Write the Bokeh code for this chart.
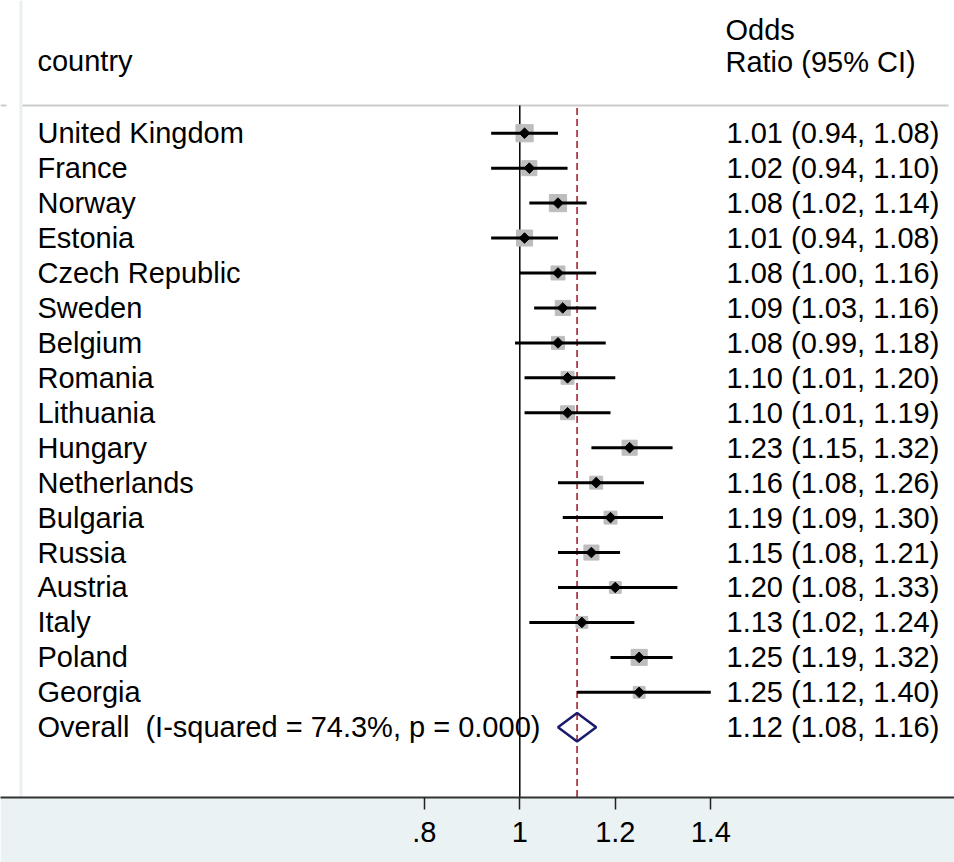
from bokeh.plotting import figure
from bokeh.models import ColumnDataSource, Range1d, FixedTicker
from bokeh.core.properties import value
from bokeh.embed import file_html
from bokeh.resources import INLINE
import math

# ---------------- data ----------------
countries = ["United Kingdom", "France", "Norway", "Estonia", "Czech Republic",
             "Sweden", "Belgium", "Romania", "Lithuania", "Hungary",
             "Netherlands", "Bulgaria", "Russia", "Austria", "Italy",
             "Poland", "Georgia"]
odds_ratio = [1.01, 1.02, 1.08, 1.01, 1.08, 1.09, 1.08, 1.10, 1.10, 1.23,
              1.16, 1.19, 1.15, 1.20, 1.13, 1.25, 1.25]
ci_low = [0.94, 0.94, 1.02, 0.94, 1.00, 1.03, 0.99, 1.01, 1.01, 1.15,
          1.08, 1.09, 1.08, 1.08, 1.02, 1.19, 1.12]
ci_high = [1.08, 1.10, 1.14, 1.08, 1.16, 1.16, 1.18, 1.20, 1.19, 1.32,
           1.26, 1.30, 1.21, 1.33, 1.24, 1.32, 1.40]
weights = [8.5, 6.5, 8.5, 7.4, 5.6, 6.5, 4.8, 4.8, 5.6, 6.5,
           4.8, 4.8, 6.5, 4.0, 4.0, 7.4, 4.0]
overall_or = 1.12
overall_low = 1.08
overall_high = 1.16
i_squared = 74.3
p_value = 0.000
tick_values = [0.8, 1.0, 1.2, 1.4]
tick_labels = [".8", "1", "1.2", "1.4"]

FONT = value("Liberation Sans")
FS = "29px"

n = len(countries)
rows = list(range(n))
overall_row = n

X0, X1 = -0.08754, 1.9104
Y_TOP, Y_BOT = -3.798, 19.01

p = figure(width=954, height=862, output_backend="svg", toolbar_location=None,
           x_range=Range1d(X0, X1), y_range=Range1d(Y_BOT, Y_TOP),
           y_axis_location=None, min_border_left=0, min_border_right=0,
           min_border_top=0, min_border_bottom=65)
p.grid.visible = False
p.outline_line_color = None
p.background_fill_color = "white"
p.border_fill_color = "#EAF2F3"

# left light strip
p.quad(left=[-0.0478], right=[-0.0415], top=[Y_TOP], bottom=[Y_BOT],
       fill_color="#E8F0F2", line_color=None)

# header separators
p.segment(x0=[-0.0415, X0], x1=[1.8978, -0.075], y0=[-0.79, -0.79],
          y1=[-0.79, -0.79], line_color="#CCCCCC", line_width=2)

# null line
p.segment(x0=[1.0], x1=[1.0], y0=[-0.79], y1=[Y_BOT], line_color="black",
          line_width=1.5)
# overall dashed line
p.segment(x0=[overall_or], x1=[overall_or], y0=[-0.72], y1=[Y_BOT],
          line_color="#B03A48", line_width=1.8, line_dash="7 4")

src = ColumnDataSource(dict(
    y=rows, est=odds_ratio, lo=ci_low, hi=ci_high,
    size=[5.9 * math.sqrt(w) for w in weights],
    name=countries,
    lab=[f"{e:.2f} ({l:.2f}, {h:.2f})" for e, l, h in zip(odds_ratio, ci_low, ci_high)],
))

p.scatter(x="est", y="y", size="size", marker="square", source=src,
          fill_color="#BDBDBD", line_color="#BDBDBD", line_width=1)
p.segment(x0="lo", x1="hi", y0="y", y1="y", source=src, line_color="black",
          line_width=3)
p.scatter(x="est", y="y", size=7.5, marker="square", angle=math.pi / 4,
          source=src, fill_color="black", line_color="black")

# overall diamond
p.patch(x=[overall_low, overall_or, overall_high, overall_or],
        y=[overall_row, overall_row - 0.41, overall_row, overall_row + 0.41],
        fill_color=None, line_color="#1B1B6E", line_width=2.5)

# texts
p.text(x=-0.0101, y="y", text="name", source=src, text_font=FONT,
       text_font_size=FS, text_baseline="middle", text_align="left",
       text_color="black")
p.text(x=1.4329, y="y", text="lab", source=src, text_font=FONT,
       text_font_size=FS, text_baseline="middle", text_align="left",
       text_color="black")

overall_src = ColumnDataSource(dict(
    x=[-0.0101, 1.4329], y=[overall_row, overall_row],
    t=[f"Overall\u00a0 (I-squared = {i_squared:.1f}%, p = {p_value:.3f})",
       f"{overall_or:.2f} ({overall_low:.2f}, {overall_high:.2f})"]))
p.text(x="x", y="y", text="t", source=overall_src, text_font=FONT,
       text_font_size=FS, text_baseline="middle", text_align="left",
       text_color="black")

header_src = ColumnDataSource(dict(
    x=[-0.0101, 1.4308, 1.4308], y=[-2.06, -2.94, -2.04],
    t=["country", "Odds", "Ratio (95% CI)"]))
p.text(x="x", y="y", text="t", source=header_src, text_font=FONT,
       text_font_size=FS, text_baseline="middle", text_align="left",
       text_color="black")

# axis
ax = p.xaxis[0]
ax.ticker = FixedTicker(ticks=tick_values, minor_ticks=[])
ax.major_label_overrides = {v: l for v, l in zip(tick_values, tick_labels)}
ax.axis_line_color = "#333333"
ax.axis_line_width = 2
ax.major_tick_out = 12
ax.major_tick_in = 0
ax.major_tick_line_color = "#222222"
ax.major_tick_line_width = 1.5
ax.minor_tick_line_color = None
ax.major_label_text_font = "Liberation Sans"
ax.major_label_text_font_size = FS
ax.major_label_text_color = "black"
ax.major_label_standoff = 12

open("out.html", "w").write(file_html(p, INLINE))
